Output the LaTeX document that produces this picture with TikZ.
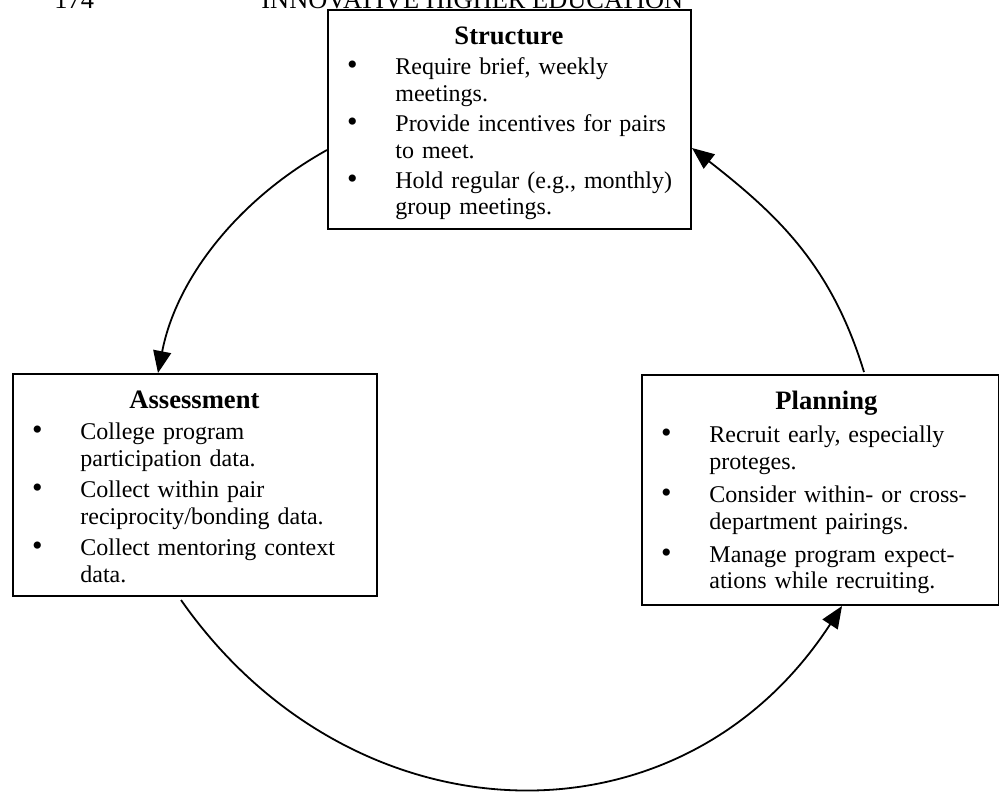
\documentclass[tikz,border=0pt]{standalone}
\usepackage{fontspec}
\setmainfont{Liberation Serif}
\usetikzlibrary{arrows.meta}

\newlength{\ecartpuce}
\setlength{\ecartpuce}{1.6pt}
\newcommand{\puce}[1]{\par\vspace{\ecartpuce}\hangindent=34pt\hangafter=1\noindent\makebox[34pt][l]{\hspace{9.9pt}{\fontsize{15}{0}\selectfont\textbullet}}#1\par}
\newcommand{\titre}[2][0pt]{\noindent\hbox to \hsize{\hss\rule{0pt}{17.5pt}\hspace*{#1}{\fontsize{13.3}{13.4}\selectfont\bfseries #2}\hss}}

\tikzset{
  cadre/.style={draw, line width=1pt, inner sep=0pt, anchor=north west},
  texte/.style={anchor=north west, inner sep=0pt, align=left, font=\fontsize{12}{13.4}\selectfont},
  entete/.style={anchor=base west, inner sep=0pt, font=\fontsize{13.2}{15}\selectfont},
  fleche/.style={line width=0.9pt, -{Triangle[length=11pt,width=9pt]}}
}

\begin{document}
\begin{tikzpicture}[x=0.5pt, y=-0.5pt]
  \useasboundingbox (0,0) rectangle (999,794);

  % En-tete (coupe par le bord de la page)
  \node[entete] (page) at (54,8) {174};
  \node[entete] (revue) at (261,8) {INNOVATIVE HIGHER EDUCATION};

  % Cadres
  \node[cadre, minimum width=181.5pt, minimum height=109.5pt] (structure) at (327,9) {};
  \node[cadre, minimum width=182pt, minimum height=111pt] (assessment) at (12,373) {};
  \node[cadre, minimum width=178.5pt, minimum height=115pt] (planning) at (641,374) {};

  % Textes
  \begin{scope}
    \clip (structure.north west) rectangle ([yshift=5.5pt]structure.south east);
    \node[texte, text width=181.5pt] (structure-texte) at (structure.north west) {\titre{Structure}
      \puce{Require brief, weekly\newline meetings.}
      \puce{Provide incentives for pairs\newline to meet.}
      \puce{Hold regular (e.g., monthly)\newline group meetings.}};
  \end{scope}
  \begin{scope}
    \clip (assessment.north west) rectangle ([yshift=5.5pt]assessment.south east);
    \node[texte, text width=182pt] (assessment-texte) at (assessment.north west) {\setlength{\ecartpuce}{2.2pt}\titre{Assessment}
      \puce{College program\newline participation data.}
      \puce{Collect within pair\newline reciprocity/bonding data.}
      \puce{Collect mentoring context\newline data.}};
  \end{scope}
  \begin{scope}
    \clip (planning.north west) rectangle ([yshift=5.5pt]planning.south east);
    \node[texte, text width=178.5pt, font=\fontsize{12}{13.2}\selectfont] (planning-texte) at (planning.north west) {\setlength{\ecartpuce}{3.5pt}\titre[6.5pt]{Planning}
      \puce{Recruit early, especially\newline proteges.}
      \puce{Consider within- or cross-\newline department pairings.}
      \puce{Manage program expect-\newline ations while recruiting.}};
  \end{scope}

  % Cycle
  \draw[fleche] ([yshift=-15.25pt]structure.west) to[out=209, in=79, looseness=0.9] ([xshift=-18.5pt]assessment.north);
  \draw[fleche] ([xshift=-7pt,yshift=-1.5pt]assessment.south) to[out=-55, in=237, looseness=1.15] ([xshift=10.75pt]planning.south);
  \draw[fleche] ([xshift=21.75pt,yshift=1pt]planning.north) to[out=107, in=322] ([yshift=-14.25pt]structure.east);
\end{tikzpicture}
\end{document}
